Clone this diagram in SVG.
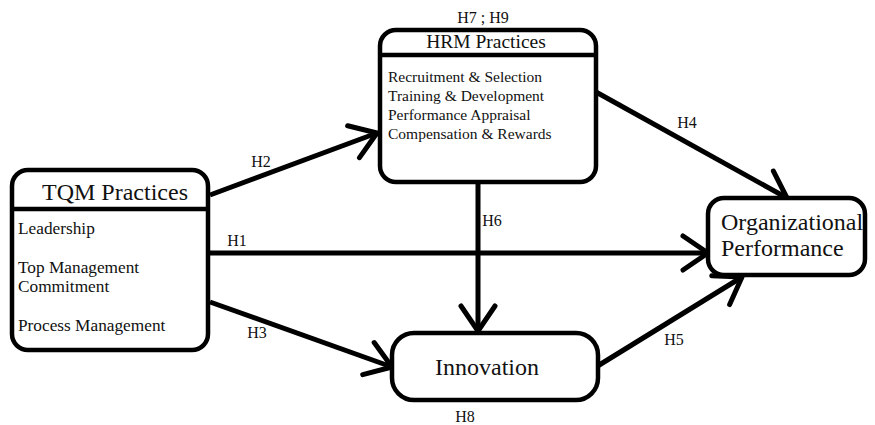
<svg xmlns="http://www.w3.org/2000/svg" width="875" height="425" viewBox="0 0 875 425">
<style>
.box{fill:#fff;stroke:#000;stroke-width:4.5}
.div{stroke:#000;stroke-width:4.5}
.t{font-family:"Liberation Serif","Times New Roman",serif;fill:#111}
.big{font-size:24px}
.item{font-size:17.3px}
.lab{font-size:16px}
.con{fill:none;stroke:#000;stroke-width:5;marker-end:url(#v)}
</style>
<defs>
<marker id="v" markerUnits="userSpaceOnUse" viewBox="-30 -25 35 50" refX="0" refY="0" markerWidth="35" markerHeight="50" orient="auto" overflow="visible">
<path d="M-25,-17 L0,0 L-25,17" fill="none" stroke="#000" stroke-width="5" stroke-linecap="round" stroke-linejoin="round"/>
</marker>
</defs>
<rect width="875" height="425" fill="#fff"/>
<g id="connectors">
<line class="con" x1="210" y1="195" x2="377" y2="133"/>
<line class="con" x1="210" y1="253" x2="708" y2="253"/>
<line class="con" x1="210" y1="302" x2="392" y2="367"/>
<line class="con" x1="596" y1="92" x2="787" y2="198"/>
<line class="con" x1="596" y1="367" x2="742" y2="277"/>
<line class="con" x1="478" y1="183" x2="478" y2="331"/>
<text class="t lab" x="261" y="167" text-anchor="middle">H2</text>
<text class="t lab" x="237" y="246" text-anchor="middle">H1</text>
<text class="t lab" x="257" y="338" text-anchor="middle">H3</text>
<text class="t lab" x="687" y="128" text-anchor="middle">H4</text>
<text class="t lab" x="674" y="345" text-anchor="middle">H5</text>
<text class="t lab" x="492" y="226" text-anchor="middle">H6</text>
<text class="t lab" x="483" y="23" text-anchor="middle">H7 ; H9</text>
<text class="t lab" x="465" y="422" text-anchor="middle">H8</text>
</g>
<g id="tqm">
<rect class="box" x="12" y="170" width="196" height="180" rx="16"/>
<line class="div" x1="12" y1="209" x2="208" y2="209"/>
<text class="t big" x="115" y="200" text-anchor="middle">TQM Practices</text>
<text class="t item" x="18" y="234">Leadership</text>
<text class="t item" x="18" y="273">Top Management</text>
<text class="t item" x="18" y="292">Commitment</text>
<text class="t item" x="18" y="331">Process Management</text>
</g>
<g id="hrm">
<rect class="box" x="380" y="30" width="216" height="152" rx="16"/>
<line class="div" x1="380" y1="55" x2="596" y2="55"/>
<text class="t" x="486" y="48" text-anchor="middle" font-size="19.5">HRM Practices</text>
<text class="t" font-size="15.5" x="388" y="82">Recruitment &amp; Selection</text>
<text class="t" font-size="15.5" x="388" y="101">Training &amp; Development</text>
<text class="t" font-size="15.5" x="388" y="120">Performance Appraisal</text>
<text class="t" font-size="15.5" x="388" y="139">Compensation &amp; Rewards</text>
</g>
<g id="org">
<rect class="box" x="708" y="198" width="157" height="77" rx="16"/>
<text class="t" font-size="24" x="721" y="230">Organizational</text>
<text class="t" font-size="24" x="721" y="256">Performance</text>
</g>
<g id="innovation">
<rect class="box" x="392" y="333" width="206" height="67" rx="22"/>
<text class="t big" x="487" y="375" text-anchor="middle">Innovation</text>
</g>
</svg>
